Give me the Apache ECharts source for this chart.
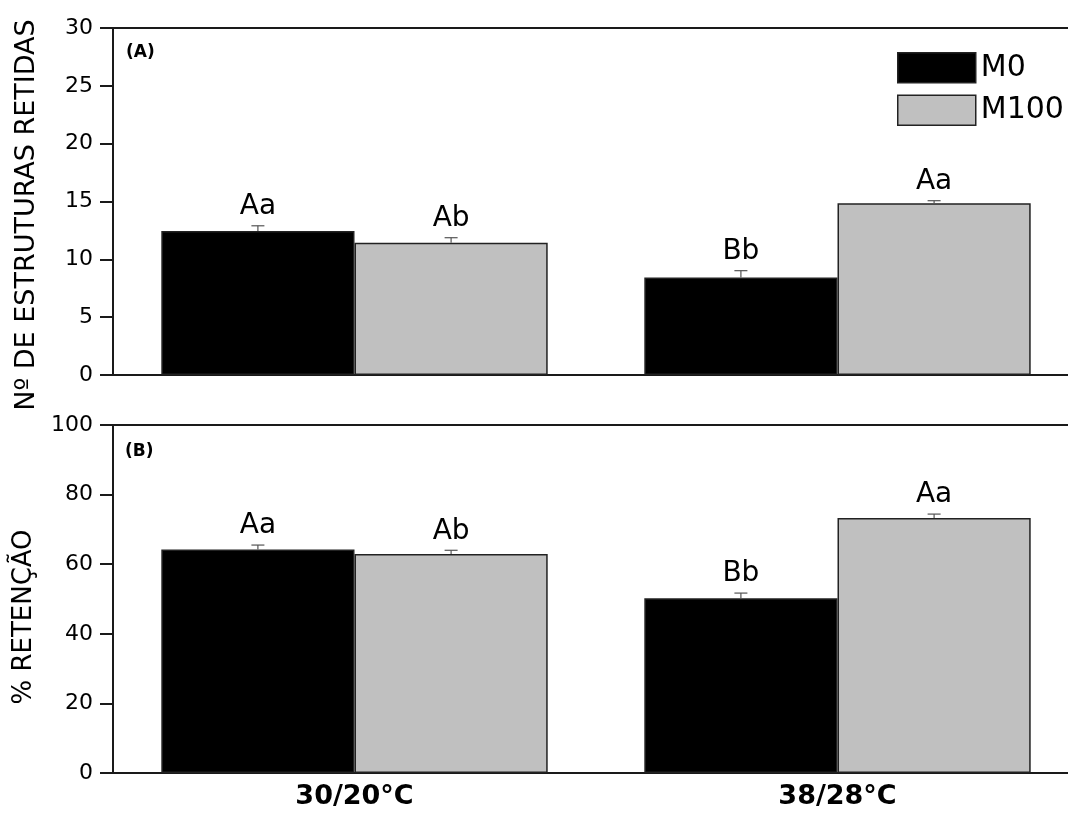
<!DOCTYPE html>
<html>
<head>
<meta charset="utf-8">
<script src="https://cdn.jsdelivr.net/npm/echarts@6/dist/echarts.min.js"></script>
<style>html,body{margin:0;padding:0;background:#fff;}#c{width:1068px;height:815px;}</style>
</head>
<body>
<div id="c"></div>
<script>
// ---- data ----
var categories = ['30/20°C', '38/28°C'];
var seriesNames = ['M0', 'M100'];
// Panel A: Nº de estruturas retidas
var aM0 = [12.45, 8.44];
var aM0Err = [0.45, 0.58];
var aM100 = [11.44, 14.84];
var aM100Err = [0.43, 0.23];
var aM0Labels = ['Aa', 'Bb'];
var aM100Labels = ['Ab', 'Aa'];
// Panel B: % retenção
var bM0 = [64.2, 50.2];
var bM0Err = [1.3, 1.5];
var bM100 = [62.9, 73.3];
var bM100Err = [1.1, 1.1];
var bM0Labels = ['Aa', 'Bb'];
var bM100Labels = ['Ab', 'Aa'];
var aTicks = {min: 0, max: 30, interval: 5};
var bTicks = {min: 0, max: 100, interval: 20};

var FONT = 'DejaVu Sans';
var AX = '#1a1a1a';
var colors = ['#000000', '#c0c0c0'];

function errSeries(name, vals, errs, labels, gridIdx, sIdx) {
  var data = vals.map(function (v, i) { return [i, v, errs[i], labels[i]]; });
  return {
    type: 'custom',
    name: name + '_err',
    xAxisIndex: gridIdx * 2,
    yAxisIndex: gridIdx,
    silent: true,
    z: 5,
    data: data,
    renderItem: function (params, api) {
      var i = api.value(0);
      var band = api.size([1, 0])[0];
      var off = (sIdx === 0 ? -0.2 : 0.2) * band;
      var top = api.coord([i, api.value(1)]);
      var cap = api.coord([i, api.value(1) + api.value(2)]);
      var x = top[0] + off;
      return {
        type: 'group',
        children: [
          {type: 'line', shape: {x1: x, y1: top[1], x2: x, y2: cap[1]}, style: {stroke: '#555', lineWidth: 1.2}},
          {type: 'line', shape: {x1: x - 6.5, y1: cap[1], x2: x + 6.5, y2: cap[1]}, style: {stroke: '#555', lineWidth: 1.2}},
          {type: 'text', style: {text: labels[i], x: x, y: cap[1] - 5, align: 'center', verticalAlign: 'bottom',
            font: '28px "' + FONT + '"', fill: '#000'}}
        ]
      };
    }
  };
}

function barSeries(name, vals, gridIdx, sIdx) {
  return {
    type: 'bar',
    name: name,
    xAxisIndex: gridIdx * 2,
    yAxisIndex: gridIdx,
    data: vals,
    barWidth: '40%',
    barGap: '0%',
    itemStyle: {color: colors[sIdx], borderColor: '#222', borderWidth: 1.5},
    emphasis: {disabled: true},
    z: 2
  };
}

function yAxis(gridIdx, t) {
  return {
    type: 'value', gridIndex: gridIdx, min: t.min, max: t.max, interval: t.interval,
    axisLine: {show: true, lineStyle: {color: AX, width: 2}},
    axisTick: {show: true, length: 13, lineStyle: {color: AX, width: 2}},
    axisLabel: {margin: 20, fontFamily: FONT, fontSize: 22, color: '#000'},
    splitLine: {show: false}
  };
}

function xAxes(gridIdx, showLabels) {
  return [{
    type: 'category', gridIndex: gridIdx, data: categories, position: 'bottom',
    axisLine: {show: true, onZero: false, lineStyle: {color: AX, width: 2}},
    axisTick: {show: false},
    axisLabel: {show: showLabels, margin: 10, fontFamily: FONT, fontSize: 27, fontWeight: 'bold', color: '#000'}
  }, {
    type: 'category', gridIndex: gridIdx, data: categories, position: 'top',
    axisLine: {show: true, onZero: false, lineStyle: {color: AX, width: 2}},
    axisTick: {show: false}, axisLabel: {show: false}
  }];
}

var chart = echarts.init(document.getElementById('c'), null, {renderer: 'canvas'});
chart.setOption({
  backgroundColor: '#fff',
  animation: false,
  textStyle: {fontFamily: FONT},
  grid: [
    {left: 113, top: 28, width: 966, height: 347, containLabel: false, outerBoundsMode: 'none'},
    {left: 113, top: 425, width: 966, height: 348, containLabel: false, outerBoundsMode: 'none'}
  ],
  xAxis: xAxes(0, false).concat(xAxes(1, true)),
  yAxis: [yAxis(0, aTicks), yAxis(1, bTicks)],
  legend: {
    data: seriesNames,
    orient: 'vertical',
    left: 892, top: 47,
    itemWidth: 78, itemHeight: 30, itemGap: 11,
    icon: 'rect',
    selectedMode: false,
    textStyle: {fontFamily: FONT, fontSize: 30, color: '#000'},
    itemStyle: {borderColor: '#222', borderWidth: 1.5}
  },
  graphic: [
    {type: 'text', x: 27, y: 215, rotation: Math.PI / 2,
      style: {text: 'Nº DE ESTRUTURAS RETIDAS', align: 'center', verticalAlign: 'middle', font: '27px "' + FONT + '"', fill: '#000'}},
    {type: 'text', x: 24, y: 617, rotation: Math.PI / 2,
      style: {text: '% RETENÇÃO', align: 'center', verticalAlign: 'middle', font: '26px "' + FONT + '"', fill: '#000'}},
    {type: 'text', x: 126, y: 44, style: {text: '(A)', font: 'bold 17px "' + FONT + '"', fill: '#000'}},
    {type: 'text', x: 125, y: 443, style: {text: '(B)', font: 'bold 17px "' + FONT + '"', fill: '#000'}}
  ],
  series: [
    barSeries('M0', aM0, 0, 0),
    barSeries('M100', aM100, 0, 1),
    barSeries('M0', bM0, 1, 0),
    barSeries('M100', bM100, 1, 1),
    errSeries('M0', aM0, aM0Err, aM0Labels, 0, 0),
    errSeries('M100', aM100, aM100Err, aM100Labels, 0, 1),
    errSeries('M0', bM0, bM0Err, bM0Labels, 1, 0),
    errSeries('M100', bM100, bM100Err, bM100Labels, 1, 1)
  ]
});
</script>
</body>
</html>
